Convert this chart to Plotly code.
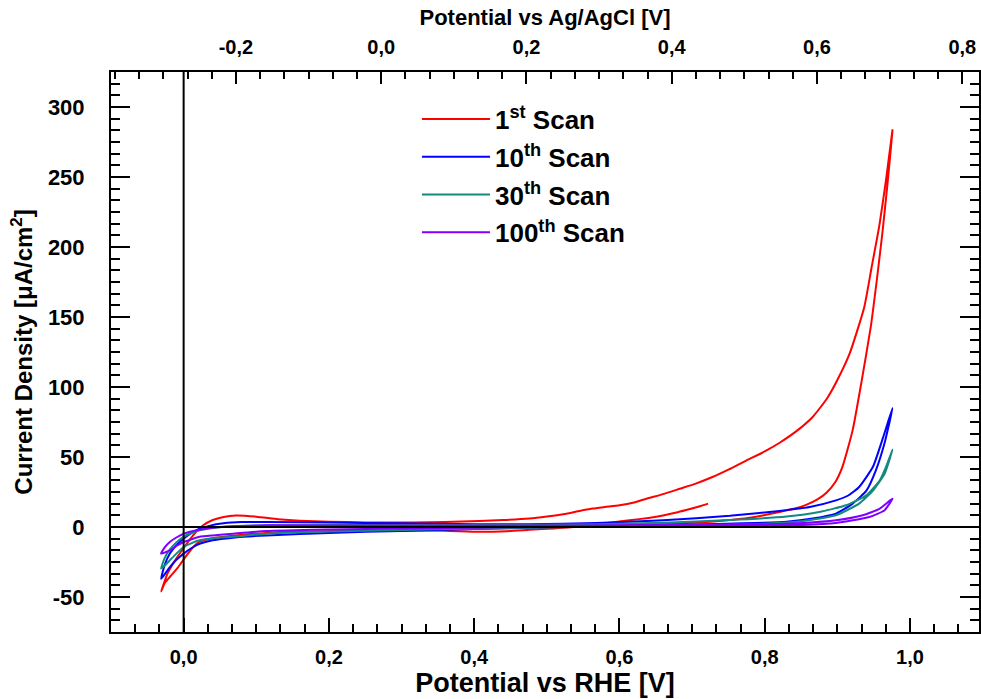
import plotly.graph_objects as go

# ---------------- data ----------------
# Potential vs RHE [V] and current density [uA/cm2], in scan order
scan1_E = [0.50, 0.60, 0.66, 0.70, 0.73, 0.752, 0.775, 0.797, 0.82, 0.84, 0.857, 0.872, 0.885, 0.897, 0.907,
           0.921, 0.933, 0.946, 0.954, 0.962, 0.969, 0.976,
           0.967, 0.958, 0.947, 0.937, 0.917, 0.90, 0.886, 0.866, 0.845, 0.82, 0.80, 0.775, 0.75, 0.728, 0.705, 0.683,
           0.66, 0.637, 0.62, 0.60, 0.58, 0.563, 0.545, 0.527, 0.50, 0.476, 0.44, 0.407, 0.36, 0.316, 0.25,
           0.20, 0.16, 0.13, 0.10, 0.072, 0.055, 0.04, 0.027, 0.013, 0.0, -0.012, -0.022, -0.031,
           -0.026, -0.018, -0.008, 0.003, 0.012, 0.022, 0.04, 0.068, 0.114, 0.16, 0.22, 0.30, 0.36, 0.407,
           0.445, 0.476, 0.51, 0.545, 0.568, 0.59, 0.614, 0.64, 0.66, 0.68, 0.697, 0.712, 0.722]
scan1_j = [0.5, 1.2, 2.2, 3.0, 4.0, 5.0, 6.2, 8.2, 10.7, 13, 15.8, 19.5, 24.5, 32, 43,
           69, 103, 143, 175, 210, 245, 284,
           248, 216, 185, 157, 124, 105, 92, 78.6, 69, 60, 54, 47.6, 41, 35.7, 31, 27.3,
           23.5, 20.2, 17.5, 15.5, 14.3, 13.2, 11.5, 9.5, 7.5, 6.1, 5.0, 4.3, 3.6, 3.2, 3.3,
           3.8, 4.5, 5.6, 7.4, 8.2, 7.2, 5.0, 1.2, -6, -15, -24, -33, -46,
           -40, -35, -29, -21, -15, -10.5, -8, -6.2, -4.2, -3.3, -2.8, -2.5, -2.7, -3.4,
           -3.0, -2.0, -1.0, 0.3, 2.0, 3.3, 4.8, 6.5, 8.2, 10.5, 12.8, 15, 16.7]

scan10_E = [-0.031, -0.025, -0.019, -0.01, 0.0, 0.011, 0.022, 0.04, 0.068, 0.114, 0.16, 0.2, 0.3, 0.4, 0.5,
            0.6, 0.7, 0.77, 0.83, 0.866, 0.898, 0.921, 0.94, 0.953, 0.965, 0.976,
            0.963, 0.949, 0.93, 0.915, 0.898, 0.862, 0.82, 0.752, 0.66, 0.568, 0.476, 0.4, 0.3, 0.2,
            0.114, 0.08, 0.055, 0.035, 0.022, 0.01, 0.0, -0.01, -0.019, -0.026, -0.031]
scan10_j = [-37, -33, -28.6, -23.5, -19, -15, -12, -9.5, -7.6, -6, -5, -4.2, -2.8, -1.5, -0.2,
            0.8, 1.7, 2.6, 3.8, 6, 9.5, 16.7, 26, 40.5, 60, 85,
            64, 43, 28.6, 22.5, 19, 14.3, 11.5, 8, 4.8, 2.8, 2.0, 2.0, 2.6, 3.2,
            3.6, 3.5, 2.6, 0.8, -1.2, -4.5, -8.3, -13, -19, -27, -37]

scan30_E = [-0.031, -0.025, -0.019, -0.01, 0.0, 0.011, 0.022, 0.04, 0.068, 0.114, 0.2, 0.3, 0.4, 0.5,
            0.6, 0.7, 0.8, 0.853, 0.898, 0.93, 0.949, 0.965, 0.976,
            0.967, 0.958, 0.94, 0.912, 0.875, 0.83, 0.752, 0.66, 0.568, 0.476, 0.4, 0.3, 0.2,
            0.114, 0.068, 0.04, 0.022, 0.01, 0.0, -0.01, -0.019, -0.026, -0.031]
scan30_j = [-29.7, -27, -23.8, -19, -14.3, -11.5, -9.5, -8, -7, -4.8, -3.3, -2.2, -1.2, -0.3,
            0.5, 1.2, 2.4, 4.3, 8.4, 16.7, 26, 38, 55.3,
            43, 33, 22.6, 15.5, 10.7, 7.5, 5, 3.1, 2, 1.5, 1.4, 1.5, 1.4,
            1.2, 0.5, -0.8, -2.4, -4.5, -7, -11, -16, -22, -29.7]

scan100_E = [-0.031, -0.025, -0.019, -0.01, 0.0, 0.011, 0.022, 0.04, 0.068, 0.114, 0.2, 0.3, 0.4, 0.5,
             0.6, 0.7, 0.8, 0.853, 0.898, 0.944, 0.965, 0.976,
             0.958, 0.935, 0.898, 0.853, 0.8, 0.7, 0.6, 0.5, 0.4, 0.3, 0.2,
             0.114, 0.068, 0.04, 0.022, 0.01, 0.0, -0.01, -0.019, -0.026, -0.031]
scan100_j = [-19, -18, -16.7, -13.5, -10.7, -8.7, -7, -6, -4.8, -2.9, -1.8, -1, -0.5, 0,
             0.3, 0.6, 1.0, 1.5, 2.9, 7.1, 12, 20.3,
             13, 8.4, 4.8, 2.9, 2.0, 1.5, 1.2, 1.0, 1.0, 1.0, 1.1,
             1.2, 0.5, -0.5, -1.9, -3.2, -4.8, -7.5, -10.7, -14.5, -19]

series_names = ["1<sup>st</sup> Scan", "10<sup>th</sup> Scan", "30<sup>th</sup> Scan", "100<sup>th</sup> Scan"]
series_colors = ["#ff0000", "#0000ff", "#128a80", "#8000ff"]

AGCL_OFFSET = 0.272  # E(RHE) - E(Ag/AgCl)
x_range = [-0.1, 1.095]
y_range = [-75, 325]

FONT = "Liberation Sans, Arial, sans-serif"

fig = go.Figure()
for name, E, j, col in zip(series_names,
                           [scan1_E, scan10_E, scan30_E, scan100_E],
                           [scan1_j, scan10_j, scan30_j, scan100_j],
                           series_colors):
    fig.add_trace(go.Scatter(x=E, y=j, mode="lines", name=name, legendgroup=name,
                             line=dict(color=col, width=2, shape="spline", smoothing=0.5)))

# empty trace so the top (Ag/AgCl) axis exists
fig.add_trace(go.Scatter(x=[None], y=[None], xaxis="x2", yaxis="y", showlegend=False, hoverinfo="skip"))

xtickfont = dict(family=FONT, size=20, color="black", weight="bold")
ytickfont = dict(family=FONT, size=22, color="black", weight="bold")
alias = {"\u22120,2": "-0,2", "\u221250": "-50"}

common_x = dict(showline=True, linecolor="black", linewidth=2, ticks="inside", tickwidth=2,
                tickcolor="black", dtick=0.2, tick0=0, tickformat=".1f", showgrid=False, zeroline=False,
                tickfont=xtickfont, labelalias=alias)

fig.update_layout(
    width=981, height=699,
    margin=dict(l=111, r=2, t=72, b=67, autoexpand=False),
    paper_bgcolor="white", plot_bgcolor="white",
    separators=",.",
    font=dict(family=FONT, color="black", weight="bold"),
    xaxis=dict(range=x_range, ticklen=14, ticklabelstandoff=6,
               minor=dict(dtick=0.2 / 6, tick0=0, ticks="inside", ticklen=8, tickwidth=2, tickcolor="black"),
               title=dict(text="Potential vs RHE [V]", font=dict(family=FONT, size=27, weight="bold"), standoff=4),
               **common_x),
    xaxis2=dict(range=[x_range[0] - AGCL_OFFSET, x_range[1] - AGCL_OFFSET], overlaying="x", side="top",
                anchor="y", ticklen=12, ticklabelstandoff=8,
                minor=dict(dtick=0.2 / 6, tick0=0, ticks="inside", ticklen=7, tickwidth=2, tickcolor="black"),
                title=dict(text="Potential vs Ag/AgCl [V]", font=dict(family=FONT, size=22, weight="bold"), standoff=4),
                **common_x),
    yaxis=dict(range=y_range, showline=True, linecolor="black", linewidth=2, mirror="ticks",
               ticks="inside", ticklen=19, tickwidth=2, tickcolor="black", dtick=50, tick0=0,
               minor=dict(dtick=50 / 6, tick0=0, ticks="inside", ticklen=9, tickwidth=2, tickcolor="black"),
               showgrid=False, zeroline=False, tickfont=ytickfont, labelalias=alias, ticklabelstandoff=20,
               title=dict(text="Current Density [\u03bcA/cm<sup>2</sup>]",
                          font=dict(family=FONT, size=24, weight="bold"), standoff=8)),
    legend=dict(x=0.3525, y=0.958, xanchor="left", yanchor="top", bgcolor="rgba(0,0,0,0)",
                font=dict(family=FONT, size=26, color="black", weight="bold"),
                tracegroupgap=1, itemwidth=68),
    shapes=[
        dict(type="line", xref="x", yref="paper", x0=0, x1=0, y0=0, y1=1,
             line=dict(color="black", width=2), layer="above"),
        dict(type="line", xref="paper", yref="y", x0=0, x1=1, y0=0, y1=0,
             line=dict(color="black", width=2), layer="above"),
    ],
    showlegend=True,
)

fig.write_html("out.html")
